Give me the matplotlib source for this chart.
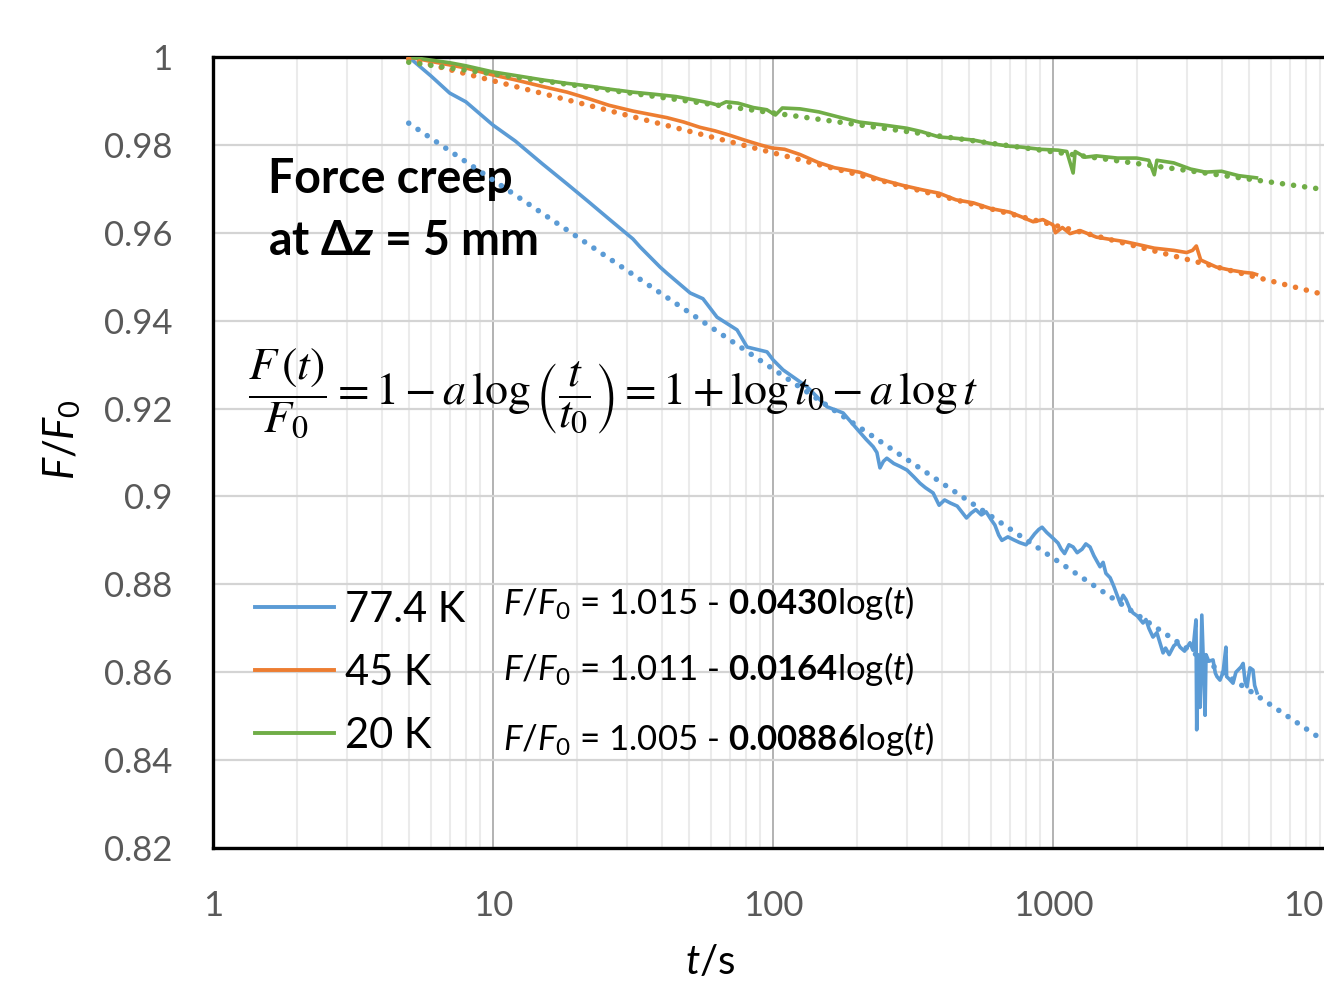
#! /usr/bin/env python3
import matplotlib
matplotlib.use("Agg")
import matplotlib.pyplot as plt
import numpy as np

plt.rcParams['font.family'] = ['Lato', 'DejaVu Sans']
plt.rcParams['mathtext.fontset'] = 'custom'
plt.rcParams['mathtext.rm'] = 'Lato'
plt.rcParams['mathtext.it'] = 'Lato:italic'
plt.rcParams['mathtext.bf'] = 'Lato:bold'
plt.rcParams['mathtext.bfit'] = 'Lato:bold:italic'

# 77.4 K
t_774 = [5, 6, 7, 8, 10, 12, 15, 18.4, 22, 26, 31.6, 33.5, 39.5, 41.8, 50.6,
         56.2, 63.1, 74.4, 80.8, 95.2, 100, 108.6, 132, 156, 178, 205, 215,
         228, 235, 241, 248, 255, 270, 285, 301, 318, 335, 350, 373, 392, 410,
         430, 455, 491, 510, 530, 555, 577, 600, 620, 640, 657, 690, 720, 760,
         801, 830, 860, 890, 914, 950, 1000, 1042, 1070, 1100, 1140, 1180,
         1220, 1270, 1310, 1356, 1400, 1472, 1510, 1545, 1600, 1650, 1734,
         1780, 1823, 1880, 1931, 2000, 2096, 2148, 2200, 2275, 2350, 2472,
         2524, 2600, 2700, 2786, 2843, 2950, 3085, 3162, 3241, 3260, 3290,
         3350, 3400, 3492, 3520, 3600, 3728, 3800, 3852, 3948, 4050, 4146,
         4170, 4250, 4395, 4500, 4693, 4775, 4850, 4930, 5050, 5178, 5250,
         5353]
F_774 = [1.000, 0.9957, 0.9918, 0.9898, 0.9845, 0.9809, 0.9757, 0.9711,
         0.9670, 0.9631, 0.9586, 0.9568, 0.9522, 0.9508, 0.9463, 0.9450,
         0.9408, 0.9379, 0.9340, 0.9329, 0.9311, 0.9288, 0.9250, 0.9204,
         0.9190, 0.9145, 0.9130, 0.9113, 0.9100, 0.9065, 0.9080, 0.9087,
         0.9075, 0.9068, 0.9060, 0.9045, 0.9030, 0.9020, 0.9008, 0.8980,
         0.8992, 0.8985, 0.8978, 0.8951, 0.8962, 0.8970, 0.8958, 0.8965,
         0.8948, 0.8935, 0.8912, 0.8900, 0.8908, 0.8902, 0.8895, 0.8890,
         0.8902, 0.8915, 0.8925, 0.8930, 0.8918, 0.8905, 0.8894, 0.8880,
         0.8870, 0.8890, 0.8885, 0.8872, 0.8880, 0.8892, 0.8885, 0.8865,
         0.8840, 0.8850, 0.8825, 0.8815, 0.8795, 0.8758, 0.8775, 0.8765,
         0.8745, 0.8735, 0.8728, 0.8712, 0.8720, 0.8700, 0.8680, 0.8690,
         0.8644, 0.8655, 0.8640, 0.8660, 0.8667, 0.8657, 0.8648, 0.8667,
         0.8650, 0.8719, 0.8469, 0.8640, 0.8520, 0.8730, 0.8502, 0.8640,
         0.8625, 0.8628, 0.8598, 0.8590, 0.8582, 0.8600, 0.8657, 0.8590,
         0.8585, 0.8575, 0.8600, 0.8612, 0.8620, 0.8580, 0.8567, 0.8610,
         0.8605, 0.8570, 0.8553]

# 45 K
t_45 = [5, 6, 7, 8, 10, 12, 15, 18.4, 22, 26, 31.6, 36, 41.8, 48, 54.8, 62,
        70, 80, 90, 99, 110, 125, 145, 166, 203, 240, 290, 340, 392, 450, 520,
        600, 700, 780, 850, 920, 1000, 1020, 1080, 1150, 1250, 1430, 1600,
        1800, 1990, 2300, 2700, 3000, 3150, 3250, 3370, 3830, 4300, 4800,
        5150, 5330]
F_45 = [1.000, 0.9990, 0.9982, 0.9975, 0.9959, 0.9948, 0.9933, 0.9920,
        0.9905, 0.9890, 0.9877, 0.9870, 0.9862, 0.9852, 0.9840, 0.9832,
        0.9822, 0.9810, 0.9800, 0.9793, 0.9790, 0.9778, 0.9760, 0.9748,
        0.9738, 0.9722, 0.9708, 0.9698, 0.9690, 0.9675, 0.9668, 0.9655,
        0.9647, 0.9635, 0.9625, 0.9630, 0.9618, 0.9600, 0.9612, 0.9598,
        0.9605, 0.9590, 0.9585, 0.9580, 0.9574, 0.9565, 0.9560, 0.9555,
        0.9560, 0.9570, 0.9538, 0.9522, 0.9515, 0.9510, 0.9508, 0.9505]

# 20 K
t_20 = [5, 6, 7, 8, 10, 12, 15, 18.4, 22, 26, 31.6, 38, 45, 54.8, 60, 64, 68,
        75, 85, 95, 102, 108, 125, 146, 175, 203, 250, 300, 340, 392, 450,
        520, 600, 700, 770, 900, 1042, 1120, 1180, 1200, 1300, 1430, 1700,
        1990, 2200, 2300, 2350, 2700, 3100, 3500, 4000, 4600, 5330]
F_20 = [1.000, 0.9993, 0.9987, 0.9980, 0.9966, 0.9958, 0.9948, 0.9940,
        0.9934, 0.9927, 0.9920, 0.9915, 0.9910, 0.9900, 0.9895, 0.9890,
        0.9898, 0.9895, 0.9885, 0.9880, 0.9868, 0.9884, 0.9882, 0.9875,
        0.9862, 0.9852, 0.9845, 0.9838, 0.9830, 0.9818, 0.9815, 0.9811,
        0.9803, 0.9797, 0.9795, 0.9790, 0.9788, 0.9785, 0.9736, 0.9785,
        0.9772, 0.9775, 0.9770, 0.9770, 0.9765, 0.9732, 0.9765, 0.9759,
        0.9745, 0.9738, 0.9740, 0.9730, 0.9725]

labels = ["77.4 K", "45 K", "20 K"]
colors = ["#5B9BD5", "#ED7D31", "#70AD47"]
fit_b = [1.015, 1.011, 1.005]          # intercepts
fit_a = [0.0430, 0.0164, 0.00886]      # slopes (per decade)
fit_a_txt = ["0.0430", "0.0164", "0.00886"]
fit_t = [5, 10000]                     # range of the trend lines

yticks = [0.82, 0.84, 0.86, 0.88, 0.90, 0.92, 0.94, 0.96, 0.98, 1.00]
ytick_labels = ["0.82", "0.84", "0.86", "0.88", "0.9", "0.92", "0.94",
                "0.96", "0.98", "1"]
xticks = [1, 10, 100, 1000, 10000]
xtick_labels = ["1", "10", "100", "1000", "10000"]

W, H = 1324, 983
fig = plt.figure(figsize=(W / 100, H / 100), dpi=100)
ax = fig.add_axes([213 / W, 1 - 848 / H, 1120 / W, 791 / H])

series = [(t_774, F_774), (t_45, F_45), (t_20, F_20)]
handles = []
for (t, F), lab, c in zip(series, labels, colors):
    h, = ax.plot(t, F, color=c, lw=2.6, label=lab, zorder=3,
                 solid_joinstyle='round')
    handles.append(h)

for b, a, c in zip(fit_b, fit_a, colors):
    tt = np.array(fit_t, dtype=float)
    ax.plot(tt, b - a * np.log10(tt), color=c, lw=4.0,
            linestyle=(0, (0.01, 2.0)), dash_capstyle='round', zorder=4)

ax.set_xscale('log')
ax.set_xlim(1, 10000)
ax.set_ylim(0.82, 1.0)
ax.set_xticks(xticks, xtick_labels)
ax.set_yticks(yticks, ytick_labels)
ax.xaxis.set_minor_locator(matplotlib.ticker.LogLocator(base=10, subs=np.arange(2, 10)))
ax.xaxis.set_minor_formatter(matplotlib.ticker.NullFormatter())
ax.tick_params(which='both', length=0)
ax.tick_params(axis='y', pad=29, labelsize=25, labelcolor='#595959')
ax.tick_params(axis='x', pad=30, labelsize=25, labelcolor='#595959')

ax.grid(True, which='minor', axis='x', color='#ebebeb', lw=1.5, zorder=0)
ax.grid(True, which='major', axis='x', color='#a6a6a6', lw=1.2, zorder=0)
ax.grid(True, which='major', axis='y', color='#d4d4d4', lw=1.6, zorder=0)
ax.set_axisbelow(True)
for s in ax.spines.values():
    s.set_linewidth(2.4)
    s.set_color('black')

ax.text((62 - 213) / 1120, (848 - 440) / 791, r'$\mathit{F/F}_{0}$',
        transform=ax.transAxes, rotation=90, ha='center', va='center',
        fontsize=30)
ax.text((710 - 213) / 1120, (848 - 962) / 791, r'$\mathit{t}$/s',
        transform=ax.transAxes, ha='center', va='center', fontsize=29)

ax.text(0.049, (848 - 193) / 791, 'Force creep', transform=ax.transAxes,
        fontsize=33.5, fontweight='bold', va='baseline')
ax.text(0.049, (848 - 255) / 791, r'at Δ$\mathbfit{z}$ = 5 mm',
        transform=ax.transAxes, fontsize=33.5, fontweight='bold', va='baseline')

ax.text((248 - 213) / 1120, (848 - 393) / 791,
        r'$\dfrac{F\,(t)}{F_0} = 1 - a\,\log\left(\dfrac{t}{t_0}\right)'
        r' = 1 + \log t_0 - a\,\log t$',
        transform=ax.transAxes, fontsize=33, ha='left', va='center',
        math_fontfamily='stix')

leg = ax.legend(handles=handles, loc='center left',
                bbox_to_anchor=((255 - 213) / 1120, (848 - 673) / 791),
                frameon=False, fontsize=30, handlelength=1.9,
                handletextpad=0.25, labelspacing=0.6, borderpad=0,
                borderaxespad=0)
for line in leg.get_lines():
    line.set_linewidth(2.8)

base_y = [614, 680, 750]
for b, at, y in zip(fit_b, fit_a_txt, base_y):
    ax.text((503 - 213) / 1120, (848 - y) / 791,
            r'$\mathit{F/F}_{0}$' + ' = %.3f - ' % b + r'$\mathbf{%s}$' % at
            + r'log($\mathit{t}$)',
            transform=ax.transAxes, fontsize=25, va='baseline')

fig.savefig('out.png', dpi=100)
